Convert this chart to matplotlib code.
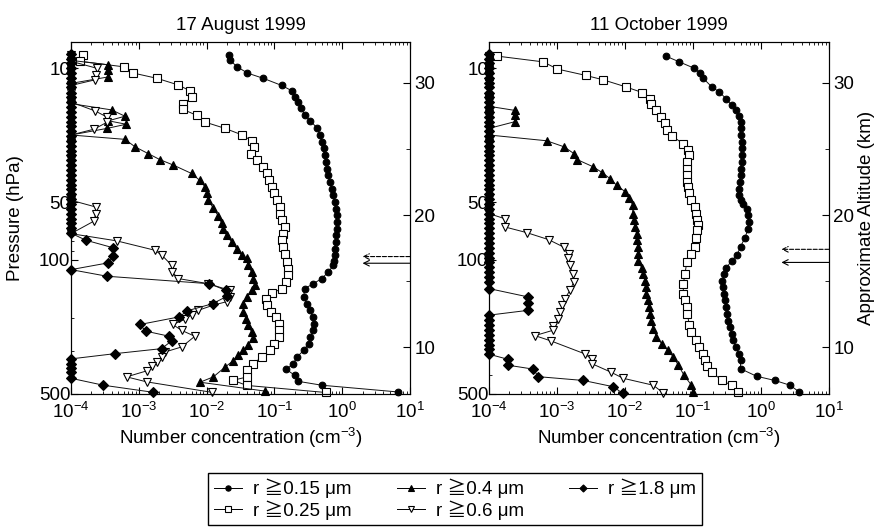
import matplotlib
matplotlib.use("Agg")
import matplotlib.pyplot as plt
from matplotlib.lines import Line2D
from matplotlib.ticker import FixedLocator, FixedFormatter, MultipleLocator, NullFormatter

plt.rcParams["font.family"] = ["Liberation Sans", "Noto Sans CJK JP", "DejaVu Sans"]
plt.rcParams["mathtext.fontset"] = "custom"
plt.rcParams["mathtext.rm"] = "Liberation Sans"
plt.rcParams["mathtext.it"] = "Liberation Sans:italic"

FLOOR = 1e-4  # detection floor drawn on the left spine

# 17 AUGUST 1999
aug_p_015 = [8.56, 9.08, 9.84, 10.6, 11.3, 12.3, 13.1, 14.1, 15.0, 16.2, 17.6, 18.8, 20.6, 22.3,
             24.2, 26.2, 28.4, 30.8, 33.4, 36.2, 39.2, 42.5, 46.0, 49.9, 54.0, 58.5, 63.4, 68.7,
             74.4, 80.6, 87.4, 94.6, 100.8, 106.7, 115.5, 125, 133, 141, 156, 169, 183, 198,
             215, 233, 252, 273, 296, 321, 347, 372, 400, 429, 450, 488]
aug_c_015 = [0.0216, 0.022, 0.0284, 0.040, 0.069, 0.128, 0.18, 0.20, 0.22, 0.25, 0.28, 0.34, 0.43,
             0.47, 0.50, 0.53, 0.55, 0.58, 0.60, 0.625, 0.65, 0.70, 0.74, 0.77, 0.81, 0.83, 0.83,
             0.83, 0.81, 0.80, 0.78, 0.78, 0.76, 0.74, 0.625, 0.50, 0.375, 0.28, 0.27, 0.30, 0.33,
             0.37, 0.39, 0.375, 0.34, 0.32, 0.27, 0.215, 0.19, 0.15, 0.20, 0.22, 0.50, 6.7]

aug_p_025 = [8.56, 9.2, 9.84, 10.6, 11.3, 12.2, 13.1, 14.2, 15.4, 16.4, 17.6, 19.1, 20.6, 22.3,
             23.9, 25.7, 28.1, 30.2, 32.7, 35.4, 38.4, 41.6, 45.0, 48.8, 52.9, 57.3, 62.1, 67.3,
             72.9, 78.9, 85.5, 92.6, 102.5, 111, 120, 130, 141, 149, 159, 172, 187, 198, 215,
             233, 252, 273, 296, 321, 347, 376, 408, 424, 451, 491]
aug_c_025 = [1.52e-4, 1.36e-4, 6.05e-4, 8.3e-4, 1.87e-3, 3.74e-3, 5.69e-3, 6.0e-3, 4.5e-3, 4.5e-3,
             7.1e-3, 9.5e-3, 0.0187, 0.0336, 0.046, 0.050, 0.045, 0.055, 0.069, 0.077, 0.082,
             0.091, 0.10, 0.11, 0.12, 0.12, 0.13, 0.143, 0.136, 0.13, 0.136, 0.143, 0.155, 0.16,
             0.16, 0.148, 0.13, 0.091, 0.075, 0.077, 0.088, 0.107, 0.117, 0.117, 0.115, 0.10,
             0.085, 0.065, 0.049, 0.039, 0.039, 0.0245, 0.039, 0.57]

aug_p_04 = [8.56, 9.1, 9.6, 10.2, 11.1, 12.0, 13.0, 14.1, 15.3, 16.5, 17.8, 18.8, 19.6, 20.6,
            22.3, 23.5, 25.7, 27.9, 30.0, 32.0, 35.4, 38.4, 41.6, 45.0, 48.8, 53.8, 59.0, 64.5,
            68.7, 74.4, 80.6, 87.4, 94.6, 98.1, 106.7, 115.5, 125, 135.6, 144, 156, 169, 187,
            202, 219, 237, 254, 278, 296, 313, 335, 362, 407, 434, 483]
aug_c_04 = [1e-4, 1e-4, 3.56e-4, 3.56e-4, 3.56e-4, 1e-4, 1e-4, 1e-4, 1e-4, 3.98e-4, 6.25e-4,
            3.56e-4, 6.5e-4, 3.4e-4, 1e-4, 6.25e-4, 8.8e-4, 1.38e-3, 2.06e-3, 3.23e-3, 6.0e-3,
            7.9e-3, 9.5e-3, 0.0103, 0.0106, 0.0126, 0.0149, 0.0167, 0.0172, 0.0198, 0.0234,
            0.0278, 0.0329, 0.039, 0.041, 0.046, 0.049, 0.052, 0.046, 0.039, 0.035, 0.035,
            0.038, 0.041, 0.046, 0.049, 0.041, 0.035, 0.029, 0.0248, 0.0187, 0.0126, 8.0e-3,
            0.073]

aug_p_06 = [8.56, 9.2, 10.0, 10.8, 11.5, 12.3, 13.5, 15.0, 16.7, 18.0, 19.1, 20.8, 22.3, 25.0,
            30.0, 35.0, 40.0, 48.8, 52.9, 57.3, 62.6, 72.9, 79.5, 89.0, 94.6, 106.7, 115.5, 125,
            133, 144, 156, 165, 172, 183, 193, 204, 217, 233, 250, 284, 302, 321, 339, 357, 379,
            407, 432, 490]
aug_c_06 = [1e-4, 1e-4, 2.39e-4, 2.34e-4, 2.26e-4, 1e-4, 1e-4, 1e-4, 2.26e-4, 3.43e-4, 3.43e-4,
            2.18e-4, 1e-4, 1e-4, 1e-4, 1e-4, 1e-4, 1e-4, 2.3e-4, 2.3e-4, 2.2e-4, 1e-4, 4.72e-4,
            1.73e-3, 2.2e-3, 3.06e-3, 3.1e-3, 3.83e-3, 0.0106, 0.022, 0.022, 0.0198, 0.0126,
            7.55e-3, 6.0e-3, 4.8e-3, 3.16e-3, 4.3e-3, 6.7e-3, 4.3e-3, 2.43e-3, 2.2e-3, 1.84e-3,
            1.55e-3, 1.3e-3, 6.6e-4, 1.3e-3, 0.0119]

aug_col_18 = [8.4, 8.9, 9.4, 10.0, 10.6, 11.2, 11.9, 12.6, 13.4, 14.2, 15.0, 15.9, 16.9, 17.9,
              19.0, 20.1, 21.3, 22.6, 24.0, 25.4, 26.9, 28.5, 30.2, 32.0, 34.0, 36.0, 38.2,
              40.5, 42.9, 45.5, 48.2, 51.1, 54.2, 57.4, 60.9, 64.5, 68.4, 72.5]
aug_p_18 = aug_col_18 + [78.9, 86.2, 95.3, 103.5, 112.3, 121.6, 133, 144, 155, 169, 184, 198,
                         217, 235, 250, 264, 290, 308, 328, 347, 366, 386, 414, 450, 490]
aug_c_18 = [FLOOR] * len(aug_col_18) + [1.66e-4, 4.1e-4, 4.2e-4, 3.56e-4, 1e-4, 3.4e-4, 0.011,
                                        0.0193, 0.0197, 0.0123, 5.2e-3, 3.96e-3, 1.04e-3,
                                        1.26e-3, 2.82e-3, 3.06e-3, 2.17e-3, 4.45e-4, 1e-4, 1e-4,
                                        1e-4, 1e-4, 1e-4, 3.0e-4, 1.64e-3]

# 11 OCTOBER 1999
oct_p_015 = [8.65, 9.27, 10.0, 10.6, 11.3, 12.5, 13.3, 14.4, 15.6, 16.6, 17.8, 19.0, 20.6, 22.3,
             24.2, 26.2, 28.4, 30.8, 33.4, 36.2, 39.2, 42.5, 46.0, 48.8, 51.0, 54.0, 58.5, 63.4,
             68.7, 76.5, 85.5, 94.6, 100.8, 110, 119, 129, 139, 150, 162, 176, 191, 207, 224,
             242, 263, 285, 309, 334, 369, 404, 425, 450, 488]
oct_c_015 = [0.040, 0.063, 0.104, 0.127, 0.142, 0.188, 0.244, 0.305, 0.37, 0.43, 0.48, 0.50,
             0.50, 0.51, 0.52, 0.52, 0.52, 0.52, 0.51, 0.50, 0.49, 0.48, 0.48, 0.50, 0.55, 0.615,
             0.65, 0.66, 0.65, 0.58, 0.50, 0.44, 0.37, 0.31, 0.286, 0.27, 0.28, 0.29, 0.30, 0.31,
             0.32, 0.33, 0.35, 0.37, 0.39, 0.43, 0.47, 0.50, 0.50, 0.86, 1.6, 2.67, 3.66]

oct_p_025 = [8.65, 9.27, 10.1, 10.9, 11.5, 12.5, 13.4, 14.4, 15.3, 16.6, 17.9, 19.4, 21.1, 22.6,
             24.7, 26.8, 28.4, 30.8, 33.4, 36.2, 39.2, 41.6, 45.0, 48.8, 52.9, 57.3, 62.1, 65.9,
             70.0, 77.0, 85.5, 92.6, 102.5, 119, 133, 150, 162, 176, 191, 219, 237, 263, 285,
             309, 334, 359, 384, 425, 450, 488]
oct_c_025 = [1.33e-4, 6.3e-4, 1.01e-3, 2.64e-3, 4.8e-3, 0.0102, 0.018, 0.0233, 0.0245, 0.029,
             0.0335, 0.0387, 0.041, 0.0497, 0.0705, 0.085, 0.088, 0.083, 0.081, 0.081, 0.081,
             0.085, 0.088, 0.095, 0.107, 0.11, 0.115, 0.12, 0.115, 0.11, 0.107, 0.092, 0.081,
             0.076, 0.072, 0.072, 0.076, 0.081, 0.083, 0.088, 0.095, 0.111, 0.124, 0.14, 0.15,
             0.16, 0.19, 0.265, 0.37, 0.46]

oct_p_04 = [8.65, 9.3, 10.0, 11.0, 12.0, 13.2, 14.5, 15.8, 16.6, 17.6, 19.0, 20.6, 22.3, 23.9,
            25.7, 27.9, 30.0, 32.7, 35.0, 37.6, 40.7, 44.0, 47.8, 51.8, 57.3, 62.1, 67.3, 72.9,
            78.9, 85.5, 92.6, 100.8, 110, 119, 129, 139, 150, 162, 176, 191, 207, 228, 252, 273,
            296, 321, 354, 400, 450, 488]
oct_c_04 = [1e-4, 1e-4, 1e-4, 1e-4, 1e-4, 1e-4, 1e-4, 1e-4, 2.41e-4, 2.41e-4, 2.41e-4, 1e-4,
            1e-4, 7.05e-4, 1.27e-3, 1.78e-3, 2.0e-3, 3.42e-3, 4.6e-3, 6.0e-3, 7.5e-3, 0.010,
            0.0116, 0.013, 0.013, 0.0135, 0.014, 0.0148, 0.015, 0.0157, 0.0157, 0.0157, 0.0176,
            0.0186, 0.020, 0.0207, 0.0207, 0.022, 0.0226, 0.023, 0.024, 0.026, 0.029, 0.0346,
            0.043, 0.0515, 0.061, 0.074, 0.095, 0.10]

oct_p_06 = [8.65, 10.0, 12.0, 15.0, 18.0, 22.0, 27.0, 33.0, 40.0, 48.0, 57.3, 61.0, 67.3, 72.0,
            78.3, 86.0, 92.6, 98.1, 106.7, 119, 130, 144, 159, 172, 187, 204, 221, 233, 248, 265,
            309, 329, 347, 384, 414, 450, 494]
oct_c_06 = [1e-4, 1e-4, 1e-4, 1e-4, 1e-4, 1e-4, 1e-4, 1e-4, 1e-4, 1e-4, 1e-4, 1.72e-4, 1.72e-4,
            3.58e-4, 7.5e-4, 1.28e-3, 1.5e-3, 1.47e-3, 1.55e-3, 1.7e-3, 1.77e-3, 1.55e-3,
            1.31e-3, 1.2e-3, 1.1e-3, 1.05e-3, 8.8e-4, 8.6e-4, 4.74e-4, 8.3e-4, 2.58e-3, 3.23e-3,
            3.23e-3, 6.15e-3, 9.4e-3, 0.026, 0.0367]

oct_col_18 = [8.4, 8.9, 9.4, 10.0, 10.6, 11.2, 11.9, 12.6, 13.4, 14.2, 15.0, 15.9, 16.9, 17.9,
              19.0, 20.1, 21.3, 22.6, 24.0, 25.4, 26.9, 28.5, 30.2, 32.0, 34.0, 36.0, 38.2,
              40.5, 42.9, 45.5, 48.2, 51.1, 54.2, 57.4, 60.9, 64.5, 68.4, 72.5, 76.9, 81.5,
              86.4, 91.6, 97.1, 103, 109, 116, 123, 130, 141]
oct_p_18 = oct_col_18 + [156, 167, 183, 194, 206, 218, 231, 245, 260, 276, 293, 310, 330, 354,
                         371, 406, 425, 458, 495]
oct_c_18 = [FLOOR] * len(oct_col_18) + [3.8e-4, 3.8e-4, 3.8e-4, 1e-4, 1e-4, 1e-4, 1e-4, 1e-4,
                                        1e-4, 1e-4, 1e-4, 1e-4, 1.92e-4, 1.92e-4, 4.5e-4, 5.3e-4,
                                        2.44e-3, 6.7e-3, 9.2e-3]

labels = ["r ≧0.15 μm", "r ≧0.25 μm", "r ≧0.4 μm", "r ≧0.6 μm", "r ≧1.8 μm"]
titles = ["17 August 1999", "11 October 1999"]
p_ticks = [10, 50, 100, 500]
km_ticks = [10, 20, 30]
# tropopause arrows (dashed, solid) in hPa
aug_arrows = [96, 104]
oct_arrows = [88, 103]

# STYLES
styles = [
    dict(marker="o", ms=4.8, mfc="black"),
    dict(marker="s", ms=5.2, mfc="white"),
    dict(marker="^", ms=5.8, mfc="black"),
    dict(marker="v", ms=5.8, mfc="white"),
    dict(marker="D", ms=4.6, mfc="black"),
]

FS = 13.5

fig = plt.figure(figsize=(8.75, 5.27), dpi=100)
ax_l = fig.add_axes([71 / 875, 1 - 394 / 527, 339 / 875, 352 / 527])
ax_r = fig.add_axes([489 / 875, 1 - 394 / 527, 340 / 875, 352 / 527])

panels = [
    (ax_l, titles[0], [(aug_c_015, aug_p_015), (aug_c_025, aug_p_025), (aug_c_04, aug_p_04),
                       (aug_c_06, aug_p_06), (aug_c_18, aug_p_18)], aug_arrows),
    (ax_r, titles[1], [(oct_c_015, oct_p_015), (oct_c_025, oct_p_025), (oct_c_04, oct_p_04),
                       (oct_c_06, oct_p_06), (oct_c_18, oct_p_18)], oct_arrows),
]

for ax, title, series, arrows in panels:

    for (c, p), st in zip(series, styles):
        ax.plot(c, p, color="#111111", lw=0.7, mec="black", mew=0.8,
                clip_on=False, **st)

    ax.set_xscale("log")
    ax.set_yscale("log")
    ax.set_xlim(1e-4, 1e1)
    ax.set_ylim(500, 7.3)

    ax.yaxis.set_major_locator(FixedLocator(p_ticks))
    ax.yaxis.set_major_formatter(FixedFormatter([str(t) for t in p_ticks]))
    ax.yaxis.set_minor_locator(FixedLocator([20, 30, 40, 60, 70, 80, 90, 200, 300, 400]))
    ax.yaxis.set_minor_formatter(NullFormatter())

    ax.tick_params(which="both", direction="in", top=True, right=False,
                   labelsize=FS, pad=3)
    ax.tick_params(which="major", length=5, width=0.8)
    ax.tick_params(which="minor", length=2.5, width=0.6)
    ax.tick_params(axis="y", pad=0.5)
    ax.tick_params(axis="x", pad=5.5)

    ax.set_title(title, fontsize=FS, pad=9)
    ax.set_xlabel("Number concentration (cm$^{-3}$)", fontsize=FS, labelpad=3)

    # ALTITUDE AXIS
    ax2 = ax.twinx()
    ax2.set_ylim(6.45, 33.1)
    ax2.yaxis.set_major_locator(FixedLocator(km_ticks))
    ax2.yaxis.set_minor_locator(MultipleLocator(5))
    ax2.tick_params(which="both", direction="in", labelsize=FS, pad=3)
    ax2.tick_params(which="major", length=5, width=0.8)
    ax2.tick_params(which="minor", length=3, width=0.6)

    for sp in list(ax.spines.values()) + list(ax2.spines.values()):
        sp.set_linewidth(0.8)

    if ax is ax_r:
        ax2.set_ylabel("Approximate Altitude (km)", fontsize=FS, labelpad=3)

    # ARROWS
    for p_arrow, ls in zip(arrows, ["--", "-"]):
        ax.annotate("", xy=(0.86, p_arrow), xytext=(1.0, p_arrow),
                    xycoords=("axes fraction", "data"),
                    textcoords=("axes fraction", "data"),
                    arrowprops=dict(arrowstyle="->", linestyle=ls, lw=0.8,
                                    color="black", shrinkA=0, shrinkB=0))

ax_l.set_ylabel("Pressure (hPa)", fontsize=FS)
ax_l.yaxis.set_label_coords(-0.14, 0.5)

# LEGEND
handles = [
    Line2D([], [], color="black", lw=0.7, mec="black", mew=0.8,
           **dict(st, ms=st["ms"] - 1))
    for st in styles
]
fig.legend(handles, labels, ncol=3, loc="upper center",
           bbox_to_anchor=(455 / 875, 1 - 473 / 527), borderaxespad=0,
           frameon=True, fancybox=False, edgecolor="black", framealpha=1,
           fontsize=13.5, handlelength=1.5, handletextpad=0.6, columnspacing=2.4,
           borderpad=0.3, labelspacing=0.1)

plt.savefig("out.png", dpi=100)
